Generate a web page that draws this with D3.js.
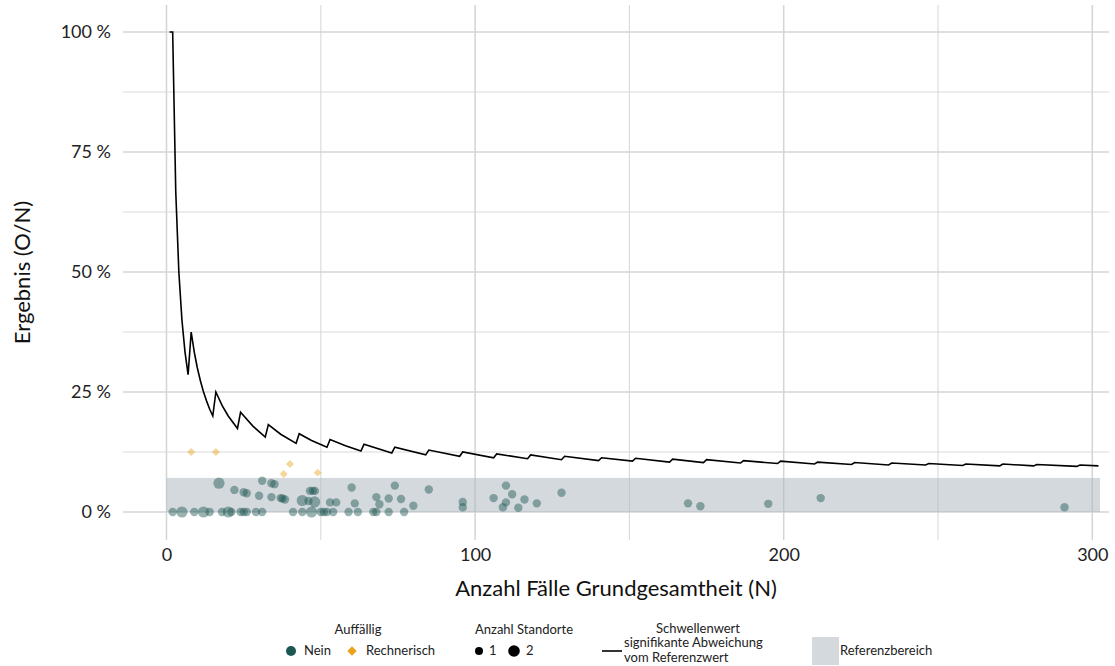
<!DOCTYPE html>
<html>
<head>
<meta charset="utf-8">
<script src="https://cdn.jsdelivr.net/npm/d3@7"></script>
<style>
  body { margin: 0; background: #fff; }
  svg { font-family: Lato, "Open Sans", sans-serif; }
</style>
</head>
<body>
<svg id="chart"></svg>
<script>
// Werte

// Standorte "Nein" (nicht auffällig): N, Ergebnis in %, Anzahl Standorte
var neinN = [2, 5, 9, 12, 14, 18, 20, 21, 24, 25, 26, 29, 31, 41, 44, 47, 50, 51, 52, 54, 59, 62, 67, 68, 72, 77,
  17, 22, 25, 26, 30, 31, 34, 35, 34, 37, 37.6, 38.4, 44, 46, 48, 46.5, 47.4, 48.1, 53, 55, 60, 61, 68, 69, 72, 74, 76, 80, 85,
  96, 96, 106, 110, 112, 110, 109, 116, 114, 120, 128, 169, 173, 195, 212, 291];
var neinWert = [0, 0, 0, 0, 0, 0, 0, 0, 0, 0, 0, 0, 0, 0, 0, 0, 0, 0, 0, 0, 0, 0, 0, 0, 0, 0,
  6.0, 4.6, 4.1, 3.9, 3.4, 6.5, 6.0, 5.8, 3.1, 2.9, 2.8, 2.6, 2.4, 2.3, 2.1, 4.4, 4.4, 4.4, 2.0, 2.0, 5.1, 1.8, 3.1, 1.6, 2.8, 5.5, 2.7, 1.3, 4.7,
  2.1, 1.0, 2.9, 5.5, 3.7, 2.0, 1.0, 2.6, 0.9, 1.8, 4.0, 1.8, 1.2, 1.7, 2.9, 1.0];
var neinAnzahl = [1, 2, 1, 2, 1, 1, 2, 1, 1, 1, 1, 1, 1, 1, 1, 2, 1, 1, 1, 1, 1, 1, 1, 1, 1, 1,
  2, 1, 1, 1, 1, 1, 1, 1, 1, 1, 1, 1, 2, 1, 2, 1, 1, 1, 1, 1, 1, 1, 1, 1, 1, 1, 1, 1, 1,
  1, 1, 1, 1, 1, 1, 1, 1, 1, 1, 1, 1, 1, 1, 1, 1];

// Standorte "Rechnerisch" auffällig
var rechN = [8, 16, 40, 38, 49];
var rechWert = [12.5, 12.5, 10.0, 7.9, 8.2];

// Schwellenwert signifikante Abweichung (Knickpunkte der Linie)
var schwelleN = [1, 2, 3, 4, 5, 6, 7, 8, 9, 10, 11, 12, 13, 14, 15, 16, 18, 20, 23, 24, 28, 32, 33, 37, 42, 43, 47, 52,
  53, 58, 63, 64, 73, 74, 84, 85, 95, 96, 106, 107, 117, 118, 128, 129, 140, 141, 151, 152, 163, 164, 174, 175,
  186, 187, 198, 199, 210, 211, 222, 223, 234, 235, 246, 247, 258, 259, 270, 271, 281, 282, 295, 296, 302];
var schwelleWert = [100, 100, 66.7, 50, 40, 33.3, 28.6, 37.5, 33.3, 30, 27.3, 25, 23.1, 21.4, 20, 25, 22.2, 20, 17.4, 20.8,
  17.9, 15.6, 18.2, 16.2, 14.3, 16.3, 14.9, 13.5, 15.1, 13.8, 12.7, 14.1, 12.3, 13.5, 11.9, 12.9, 11.6, 12.5, 11.3, 12.1,
  11.1, 11.9, 10.9, 11.6, 10.7, 11.3, 10.6, 11.2, 10.4, 11.0, 10.3, 10.9, 10.2, 10.7, 10.1, 10.6, 10.0, 10.4, 9.9, 10.3,
  9.8, 10.2, 9.8, 10.1, 9.7, 10.0, 9.6, 10.0, 9.6, 9.9, 9.5, 9.8, 9.6];

// Referenzbereich
var refBereich = [0, 7.1];      // Ergebnis in %
var refBereichN = [0, 302.5];

var xTicks = [0, 100, 200, 300];
var xMinor = [50, 150, 250];
var yTicks = [0, 25, 50, 75, 100];
var yMinor = [12.5, 37.5, 62.5, 87.5];

var width = 1115, height = 666;

var svg = d3.select("#chart")
  .attr("width", width)
  .attr("height", height);

var x = d3.scaleLinear().domain([0, 300]).range([166.5, 1092.3]);
var y = d3.scaleLinear().domain([0, 100]).range([512, 32]);

// Panelgrenzen
var xLo = x.invert(123), xHi = x.invert(1109);
var yLo = y.invert(540), yHi = y.invert(5);

var grid = svg.append("g");
grid.selectAll(".hminor").data(yMinor).enter().append("line")
  .attr("x1", x(xLo)).attr("x2", x(xHi))
  .attr("y1", function (d) { return y(d); }).attr("y2", function (d) { return y(d); })
  .attr("stroke", "#dadada").attr("stroke-width", 1.1);
grid.selectAll(".vminor").data(xMinor).enter().append("line")
  .attr("y1", y(yLo)).attr("y2", y(yHi))
  .attr("x1", function (d) { return x(d); }).attr("x2", function (d) { return x(d); })
  .attr("stroke", "#dadada").attr("stroke-width", 1.1);
grid.selectAll(".hmajor").data(yTicks).enter().append("line")
  .attr("x1", x(xLo)).attr("x2", x(xHi))
  .attr("y1", function (d) { return y(d); }).attr("y2", function (d) { return y(d); })
  .attr("stroke", "#d4d4d4").attr("stroke-width", 1.5);
grid.selectAll(".vmajor").data(xTicks).enter().append("line")
  .attr("y1", y(yLo)).attr("y2", y(yHi))
  .attr("x1", function (d) { return x(d); }).attr("x2", function (d) { return x(d); })
  .attr("stroke", "#d4d4d4").attr("stroke-width", 1.5);

// Referenzbereich
svg.append("rect")
  .attr("x", x(refBereichN[0]))
  .attr("width", x(refBereichN[1]) - x(refBereichN[0]))
  .attr("y", y(refBereich[1]))
  .attr("height", y(refBereich[0]) - y(refBereich[1]))
  .attr("fill", "#a9b4bb")
  .attr("fill-opacity", 0.5);

// Schwellenwert
var linie = d3.line()
  .x(function (d) { return x(d[0]); })
  .y(function (d) { return y(d[1]); });
svg.append("path")
  .datum(d3.zip(schwelleN, schwelleWert))
  .attr("d", linie)
  .attr("fill", "none")
  .attr("stroke", "#000")
  .attr("stroke-width", 1.6)
  .attr("stroke-linejoin", "miter");

var radius = d3.scaleOrdinal().domain([1, 2]).range([4.2, 5.6]);

svg.append("g").selectAll("circle")
  .data(d3.zip(neinN, neinWert, neinAnzahl))
  .enter().append("circle")
  .attr("cx", function (d) { return x(d[0]); })
  .attr("cy", function (d) { return y(d[1]); })
  .attr("r", function (d) { return radius(d[2]); })
  .attr("fill", "#1c5753")
  .attr("fill-opacity", 0.45);

var raute = d3.symbol().type(d3.symbolDiamond2).size(40);
svg.append("g").selectAll("path")
  .data(d3.zip(rechN, rechWert))
  .enter().append("path")
  .attr("d", raute)
  .attr("transform", function (d) { return "translate(" + x(d[0]) + "," + y(d[1]) + ")"; })
  .attr("fill", "#e8a317")
  .attr("fill-opacity", 0.45);

// Achsen
var xAxis = svg.append("g")
  .attr("transform", "translate(0," + y(yLo) + ")")
  .call(d3.axisBottom(x).tickValues(xTicks).tickSize(0).tickPadding(8));
var yAxis = svg.append("g")
  .attr("transform", "translate(" + x(xLo) + ",0)")
  .call(d3.axisLeft(y).tickValues(yTicks).tickSize(0).tickPadding(12)
    .tickFormat(function (d) { return d + " %"; }));
[xAxis, yAxis].forEach(function (a) {
  a.select(".domain").remove();
  a.selectAll("text").attr("font-size", 18).attr("fill", "#222").attr("font-family", "Lato, sans-serif");
});

svg.append("text")
  .attr("x", (x(xLo) + x(xHi)) / 2)
  .attr("y", 596)
  .attr("text-anchor", "middle")
  .attr("font-size", 22)
  .attr("fill", "#111")
  .text("Anzahl Fälle Grundgesamtheit (N)");

svg.append("text")
  .attr("transform", "translate(30," + (y(yLo) + y(yHi)) / 2 + ") rotate(-90)")
  .attr("text-anchor", "middle")
  .attr("font-size", 22)
  .attr("fill", "#111")
  .text("Ergebnis (O/N)");

// Legende
var leg = svg.append("g").attr("font-size", 13).attr("fill", "#222");
function txt(xp, yp, s, anchor) {
  leg.append("text").attr("x", xp).attr("y", yp).attr("text-anchor", anchor || "start")
    .attr("dominant-baseline", "middle").text(s);
}
txt(358, 631, "Auffällig", "middle");
leg.append("circle").attr("cx", 291).attr("cy", 651).attr("r", 5).attr("fill", "#1c5753");
txt(304, 652, "Nein");
leg.append("path").attr("d", d3.symbol().type(d3.symbolDiamond2).size(55))
  .attr("transform", "translate(352,651)").attr("fill", "#e8a317");
txt(366, 652, "Rechnerisch");

txt(524, 631, "Anzahl Standorte", "middle");
leg.append("circle").attr("cx", 479).attr("cy", 651).attr("r", 4).attr("fill", "#000");
txt(489, 652, "1");
leg.append("circle").attr("cx", 514).attr("cy", 651).attr("r", 5.8).attr("fill", "#000");
txt(526, 652, "2");

txt(698, 630, "Schwellenwert", "middle");
leg.append("line").attr("x1", 602).attr("x2", 622).attr("y1", 651).attr("y2", 651)
  .attr("stroke", "#000").attr("stroke-width", 1.6);
txt(624, 644, "signifikante Abweichung");
txt(624, 658.5, "vom Referenzwert");

leg.append("rect").attr("x", 812).attr("y", 637).attr("width", 27).attr("height", 28)
  .attr("fill", "#a9b4bb").attr("fill-opacity", 0.5);
txt(840, 652, "Referenzbereich");
</script>
</body>
</html>
